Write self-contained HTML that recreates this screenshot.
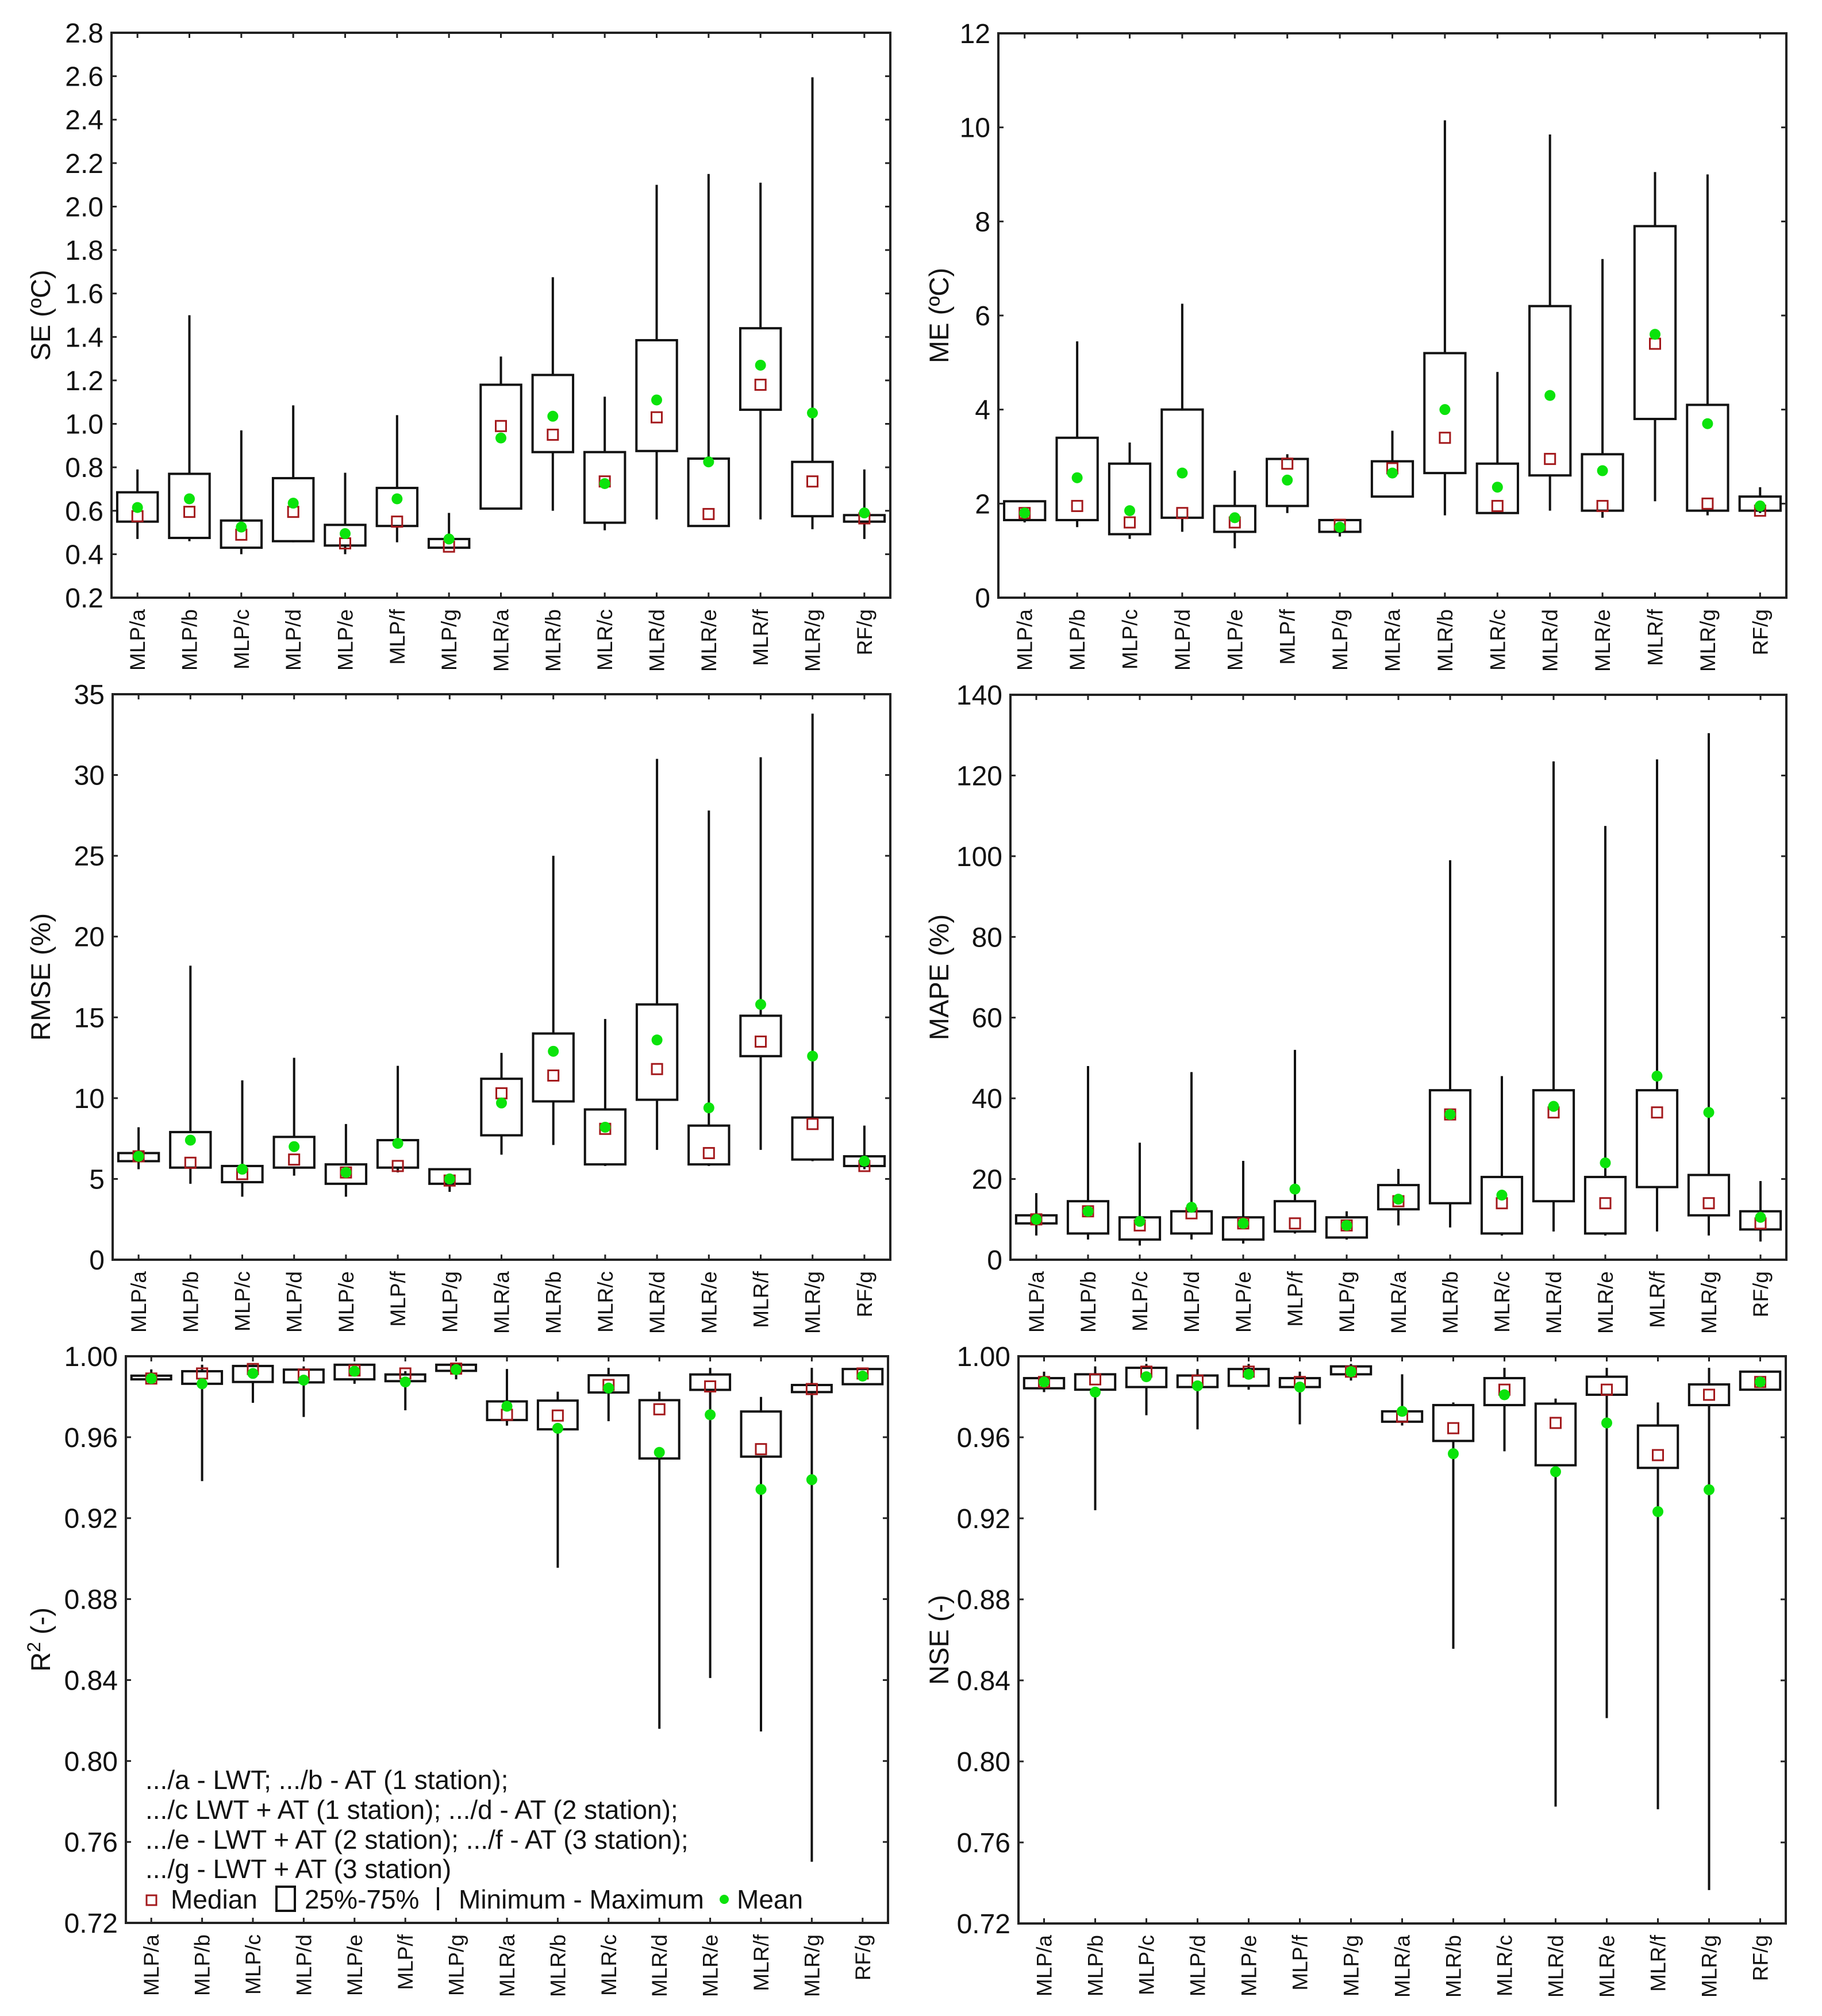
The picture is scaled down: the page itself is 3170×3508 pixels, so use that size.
<!DOCTYPE html>
<html><head><meta charset="utf-8">
<style>
html,body{margin:0;padding:0;background:#fff;}
svg{display:block;font-family:"Liberation Sans",Arial,sans-serif;}
</style></head>
<body>
<svg id="fig" width="3170" height="3508" viewBox="0 0 3170 3508" xmlns="http://www.w3.org/2000/svg">
<rect x="0" y="0" width="3170" height="3508" fill="#fff"/>
</svg>
<script>
const categories = ["MLP/a","MLP/b","MLP/c","MLP/d","MLP/e","MLP/f","MLP/g","MLR/a","MLR/b","MLR/c","MLR/d","MLR/e","MLR/f","MLR/g","RF/g"];

// SE
const seMin  = [0.47,0.46,0.40,0.455,0.40,0.455,0.43,0.61,0.60,0.51,0.56,0.53,0.56,0.515,0.47];
const seQ1   = [0.55,0.475,0.43,0.46,0.44,0.53,0.43,0.61,0.87,0.545,0.875,0.53,1.065,0.575,0.55];
const seMed  = [0.575,0.595,0.49,0.595,0.45,0.55,0.435,0.99,0.95,0.735,1.03,0.585,1.18,0.735,0.565];
const seQ3   = [0.685,0.77,0.555,0.75,0.535,0.705,0.47,1.18,1.225,0.87,1.385,0.84,1.44,0.825,0.58];
const seMax  = [0.79,1.50,0.97,1.085,0.775,1.04,0.59,1.31,1.675,1.125,2.10,2.15,2.11,2.595,0.79];
const seMean = [0.615,0.655,0.525,0.635,0.495,0.655,0.47,0.935,1.035,0.725,1.11,0.825,1.27,1.05,0.59];
const seTicks = ["0.2","0.4","0.6","0.8","1.0","1.2","1.4","1.6","1.8","2.0","2.2","2.4","2.6","2.8"];

// ME
const meMin  = [1.6,1.5,1.25,1.4,1.05,1.8,1.3,2.15,1.75,1.8,1.85,1.7,2.05,1.75,1.8];
const meQ1   = [1.65,1.65,1.35,1.7,1.4,1.95,1.4,2.15,2.65,1.8,2.6,1.85,3.8,1.85,1.85];
const meMed  = [1.8,1.95,1.6,1.8,1.6,2.85,1.55,2.75,3.4,1.95,2.95,1.95,5.4,2.0,1.85];
const meQ3   = [2.05,3.4,2.85,4.0,1.95,2.95,1.65,2.9,5.2,2.85,6.2,3.05,7.9,4.1,2.15];
const meMax  = [2.05,5.45,3.3,6.25,2.7,3.05,1.65,3.55,10.15,4.8,9.85,7.2,9.05,9.0,2.35];
const meMean = [1.8,2.55,1.85,2.65,1.7,2.5,1.5,2.65,4.0,2.35,4.3,2.7,5.6,3.7,1.95];
const meTicks = ["0","2","4","6","8","10","12"];

// RMSE
const rmMin  = [5.6,4.7,3.9,5.2,3.9,5.4,4.2,6.5,7.1,5.8,6.8,5.8,6.8,6.1,5.6];
const rmQ1   = [6.1,5.7,4.8,5.7,4.7,5.7,4.7,7.7,9.8,5.9,9.9,5.9,12.6,6.2,5.8];
const rmMed  = [6.4,6.0,5.3,6.2,5.4,5.8,4.9,10.3,11.4,8.1,11.8,6.6,13.5,8.4,5.8];
const rmQ3   = [6.6,7.9,5.8,7.6,5.9,7.4,5.6,11.2,14.0,9.3,15.8,8.3,15.1,8.8,6.4];
const rmMax  = [8.2,18.2,11.1,12.5,8.4,12.0,5.6,12.8,25.0,14.9,31.0,27.8,31.1,33.8,8.3];
const rmMean = [6.4,7.4,5.6,7.0,5.4,7.2,5.0,9.7,12.9,8.2,13.6,9.4,15.8,12.6,6.1];
const rmTicks = ["0","5","10","15","20","25","30","35"];

// MAPE
const mpMin  = [6,5,3.5,5,4,6.5,5,8.5,8,6,7,6,7,6,4.5];
const mpQ1   = [9,6.5,5,6.5,5,7,5.5,12.5,14,6.5,14.5,6.5,18,11,7.5];
const mpMed  = [10,12,8.5,11.5,9,9,8.5,14.5,36,14,36.5,14,36.5,14,9];
const mpQ3   = [11,14.5,10.5,12,10.5,14.5,10.5,18.5,42,20.5,42,20.5,42,21,12];
const mpMax  = [16.5,48,29,46.5,24.5,52,12,22.5,99,45.5,123.5,107.5,124,130.5,19.5];
const mpMean = [10,12,9.5,13,9,17.5,8.5,15,36,16,38,24,45.5,36.5,10.5];
const mpTicks = ["0","20","40","60","80","100","120","140"];

// R2
const r2Min  = [0.9865,0.9383,0.977,0.970,0.9864,0.9733,0.9886,0.9657,0.8955,0.9679,0.8159,0.841,0.8146,0.7502,0.9862];
const r2Q1   = [0.9886,0.9864,0.9873,0.9871,0.9886,0.9877,0.9928,0.9685,0.9639,0.9821,0.9495,0.9834,0.9504,0.9823,0.9862];
const r2Med  = [0.989,0.9915,0.9937,0.991,0.993,0.9915,0.9939,0.9711,0.9707,0.9858,0.9738,0.9851,0.9541,0.9838,0.9915];
const r2Q3   = [0.9904,0.9926,0.9952,0.9934,0.9958,0.991,0.9958,0.9777,0.9781,0.9906,0.9783,0.991,0.9727,0.9858,0.9937];
const r2Max  = [0.9935,0.9958,0.9958,0.995,0.9958,0.9926,0.9958,0.9937,0.9825,0.9943,0.9825,0.9943,0.9799,0.9943,0.9943];
const r2Mean = [0.989,0.9864,0.9915,0.9882,0.9926,0.9873,0.9934,0.9753,0.9644,0.9843,0.9525,0.9711,0.9342,0.939,0.9902];
const fitTicks = ["0.72","0.76","0.80","0.84","0.88","0.92","0.96","1.00"];

// NSE
const nsMin  = [0.9823,0.924,0.9709,0.9639,0.9835,0.9664,0.988,0.9658,0.8556,0.9531,0.7777,0.8214,0.7764,0.7365,0.9835];
const nsQ1   = [0.9842,0.9835,0.9848,0.9848,0.9854,0.9848,0.9911,0.9677,0.9582,0.9759,0.9462,0.981,0.9449,0.9759,0.9835];
const nsMed  = [0.9873,0.9886,0.9924,0.988,0.9924,0.9873,0.9924,0.9702,0.9645,0.9835,0.9671,0.9835,0.9512,0.981,0.9873];
const nsQ3   = [0.9892,0.9911,0.9943,0.9905,0.9937,0.9892,0.995,0.9728,0.9759,0.9892,0.9766,0.9899,0.9658,0.9861,0.9924];
const nsMax  = [0.9924,0.995,0.9962,0.9937,0.9962,0.9924,0.9962,0.9911,0.9772,0.9943,0.9791,0.9943,0.9772,0.9943,0.9924];
const nsMean = [0.9873,0.9823,0.9899,0.9854,0.9911,0.9848,0.9924,0.9728,0.9519,0.981,0.943,0.9671,0.9233,0.9341,0.9873];

const NS = "http://www.w3.org/2000/svg";
const svg = document.getElementById("fig");
function mk(tag, attrs, parent){
  const e = document.createElementNS(NS, tag);
  for (const k in attrs) e.setAttribute(k, attrs[k]);
  (parent||svg).appendChild(e);
  return e;
}

function drawPanel(cfg){
  const g = mk("g", {});
  
  
  const L=cfg.L, R=cfg.R, T=cfg.T, B=cfg.B;
  const yMin = parseFloat(cfg.ticks[0]), yMax = parseFloat(cfg.ticks[cfg.ticks.length-1]);
  const y = v => B - (v - yMin)/(yMax - yMin)*(B - T);
  const step = (R - L)/categories.length;
  const x = i => L + (i + 0.5)*step;
  const bw = step*0.78;

  cfg.ticks.forEach(t => {
    const yy = y(parseFloat(t));
    const tk = mk("line", {x1:L, x2:L+9, y1:yy, y2:yy, stroke:"#222", "stroke-width":3}, g);
    
    
    const tk2 = mk("line", {x1:R, x2:R-9, y1:yy, y2:yy, stroke:"#222", "stroke-width":3}, g);
    
    
    const lb = mk("text", {x:L-14, y:yy+17, "text-anchor":"end", "font-size":48, fill:"#111"}, g);
    lb.textContent = t;
    
    
  });
  categories.forEach((c,i) => {
    const xx = x(i);
    const t1 = mk("line", {x1:xx, x2:xx, y1:B, y2:B-9, stroke:"#222", "stroke-width":3}, g);
    
    
    const t2 = mk("line", {x1:xx, x2:xx, y1:T, y2:T+9, stroke:"#222", "stroke-width":3}, g);
    
    
    const lb = mk("text", {x:0, y:0, "text-anchor":"end", "font-size":37, fill:"#111",
      transform:`translate(${xx+13},${B+20}) rotate(-90)`}, g);
    lb.textContent = c;
    
    
  });
  categories.forEach((c,i) => {
    const xx = x(i);
    const bg = mk("g", {}, g);
    
    
    const wh = mk("line", {x1:xx, x2:xx, y1:y(cfg.min[i]), y2:y(cfg.max[i]), stroke:"#111", "stroke-width":4}, bg);
    
    
    const yq3 = y(cfg.q3[i]), yq1 = y(cfg.q1[i]);
    const bx = mk("rect", {x:xx-bw/2, y:yq3, width:bw, height:Math.max(yq1-yq3,2), fill:"#fff", stroke:"#111", "stroke-width":4}, bg);
    
    
    const md = mk("rect", {x:xx-9, y:y(cfg.med[i])-9, width:18, height:18, fill:"none", stroke:"#a3191c", "stroke-width":3}, bg);
    
    
    const mn = mk("circle", {cx:xx, cy:y(cfg.mean[i]), r:9.5, fill:"#0be30b"}, bg);
    
    
  });
  const fr = mk("rect", {x:L, y:T, width:R-L, height:B-T, fill:"none", stroke:"#222", "stroke-width":4}, g);
  
  
  const tt = mk("text", {x:0, y:0, "text-anchor":"middle", "font-size":47, fill:"#111",
    transform:`translate(${cfg.tx},${(T+B)/2}) rotate(-90)`}, g);
  tt.innerHTML = cfg.title;
  
  
  return g;
}

drawPanel({name:"se", L:194,R:1549,T:57,B:1040,tx:87,ticks:seTicks,title:"SE (ºC)",
  min:seMin,q1:seQ1,med:seMed,q3:seQ3,max:seMax,mean:seMean});
drawPanel({name:"me", L:1737,R:3108,T:58,B:1040,tx:1650,ticks:meTicks,title:"ME (ºC)",
  min:meMin,q1:meQ1,med:meMed,q3:meQ3,max:meMax,mean:meMean});
drawPanel({name:"rmse", L:196,R:1549,T:1208,B:2192,tx:87,ticks:rmTicks,title:"RMSE (%)",
  min:rmMin,q1:rmQ1,med:rmMed,q3:rmQ3,max:rmMax,mean:rmMean});
drawPanel({name:"mape", L:1758,R:3108,T:1209,B:2192,tx:1650,ticks:mpTicks,title:"MAPE (%)",
  min:mpMin,q1:mpQ1,med:mpMed,q3:mpQ3,max:mpMax,mean:mpMean});
drawPanel({name:"r2", L:219,R:1545,T:2360,B:3346,tx:87,ticks:fitTicks,title:'R<tspan dy="-17" font-size="32">2</tspan><tspan dy="17"> (-)</tspan>',
  min:r2Min,q1:r2Q1,med:r2Med,q3:r2Q3,max:r2Max,mean:r2Mean});
drawPanel({name:"nse", L:1772,R:3107,T:2360,B:3347,tx:1650,ticks:fitTicks,title:"NSE (-)",
  min:nsMin,q1:nsQ1,med:nsMed,q3:nsQ3,max:nsMax,mean:nsMean});

const legendLines = [".../a - LWT; .../b - AT (1 station);",
  ".../c LWT + AT (1 station); .../d - AT (2 station);",
  ".../e - LWT + AT (2 station); .../f - AT (3 station);",
  ".../g - LWT + AT (3 station)"];
const legendY = [3127, 3179, 3231, 3282];
const lg = mk("g", {});


legendLines.forEach((s,i) => {
  const t = mk("text", {x:253, y:legendY[i]-14, "font-size":46, fill:"#111"}, lg);
  t.textContent = s;
  
  
});
const RY = 3321;
const lm = mk("rect", {x:255, y:RY-23, width:17, height:17, fill:"none", stroke:"#a3191c", "stroke-width":3}, lg);


const lt1 = mk("text", {x:297, y:RY, "font-size":46, fill:"#111"}, lg);
lt1.textContent = "Median";


const lb = mk("rect", {x:481, y:RY-38, width:32, height:42, fill:"none", stroke:"#111", "stroke-width":4}, lg);


const lt2 = mk("text", {x:530, y:RY, "font-size":46, fill:"#111"}, lg);
lt2.textContent = "25%-75%";


const lw = mk("line", {x1:762, x2:762, y1:RY-37, y2:RY+3, stroke:"#111", "stroke-width":4}, lg);


const lt3 = mk("text", {x:798, y:RY, "font-size":46, fill:"#111"}, lg);
lt3.textContent = "Minimum - Maximum";


const lc = mk("circle", {cx:1260, cy:RY-16, r:8, fill:"#0be30b"}, lg);


const lt4 = mk("text", {x:1282, y:RY, "font-size":46, fill:"#111"}, lg);
lt4.textContent = "Mean";


</script>
</body></html>
